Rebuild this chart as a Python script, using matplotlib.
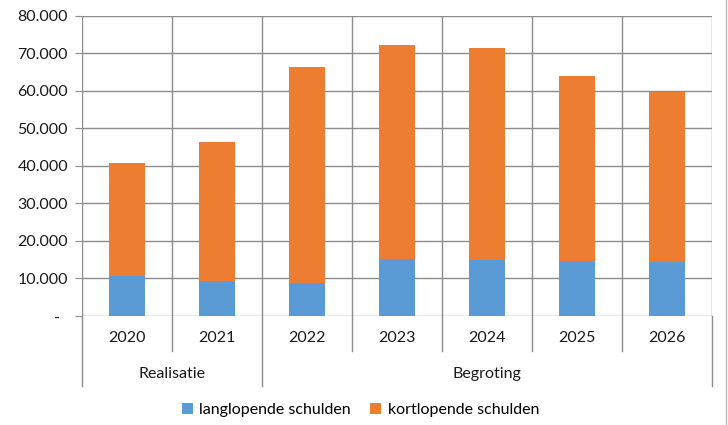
import matplotlib.pyplot as plt
import numpy as np

plt.rcParams['font.family'] = ['Lato', 'DejaVu Sans']

# gegevens (x 1.000)
jaren = ['2020', '2021', '2022', '2023', '2024', '2025', '2026']
groepen = ['Realisatie', 'Begroting']
groep_grenzen = [(-0.5, 1.5), (1.5, 6.5)]
langlopend = [10.7, 9.3, 8.8, 15.2, 15.0, 14.6, 14.5]
kortlopend = [30.0, 37.0, 57.5, 56.9, 56.4, 49.3, 45.1]

langlopend = np.array(langlopend) * 1000
kortlopend = np.array(kortlopend) * 1000

blauw = '#5B9BD5'
oranje = '#ED7D31'
grijs = '#8c8c8c'
fs = 11.5

W, H = 728, 425
fig = plt.figure(figsize=(W / 100, H / 100), dpi=100)
ax = fig.add_axes([82 / W, (H - 316) / H, 630 / W, 300.5 / H])

x = np.arange(len(jaren))
ax.bar(x, langlopend, width=0.4, color=blauw, label='langlopende schulden', zorder=3)
ax.bar(x, kortlopend, width=0.4, bottom=langlopend, color=oranje,
       label='kortlopende schulden', zorder=3)

ax.set_xlim(-0.5, 6.5)
ax.set_ylim(0, 80000)

yticks = np.arange(0, 80001, 10000)
ax.set_yticks(yticks)
ax.set_yticklabels(['-  ' if v == 0 else f'{v:,.0f}'.replace(',', '.') for v in yticks],
                   fontsize=fs, color='#1a1a1a')
ax.tick_params(axis='y', length=5, color=grijs, pad=5)
ax.tick_params(axis='x', length=0, labelbottom=False)

# rasterlijnen
for v in yticks:
    ax.axhline(v, color=grijs, lw=1, zorder=1)
for b in np.arange(-0.5, 7, 1):
    ax.axvline(b, color=grijs, lw=1, zorder=1)
for s in ax.spines.values():
    s.set_visible(False)

# categorie-as met twee niveaus
trans = ax.get_xaxis_transform()
ph = 300.5
for b in np.arange(-0.5, 7, 1):
    onder = -69.5 / ph if b in (-0.5, 1.5, 6.5) else -34.5 / ph
    ax.plot([b, b], [0, onder], color=grijs, lw=1, transform=trans, clip_on=False)
for i, j in enumerate(jaren):
    ax.text(i, -22 / ph, j, transform=trans, ha='center', va='center',
            fontsize=fs, color='#1a1a1a')
for g, (a, b) in zip(groepen, groep_grenzen):
    ax.text((a + b) / 2, -58 / ph, g, transform=trans, ha='center', va='center',
            fontsize=fs, color='#1a1a1a')

# rand rechts
fig.add_artist(plt.Line2D([725.5 / W, 725.5 / W], [0, 1], color='#bbbbbb', lw=1))

fig.legend(loc='center', bbox_to_anchor=(0.495, 1 - 410 / H), ncol=2, frameon=False,
           fontsize=fs, handlelength=0.7, handleheight=0.7, handletextpad=0.4,
           columnspacing=1.2)

fig.savefig('out.png', dpi=100)
